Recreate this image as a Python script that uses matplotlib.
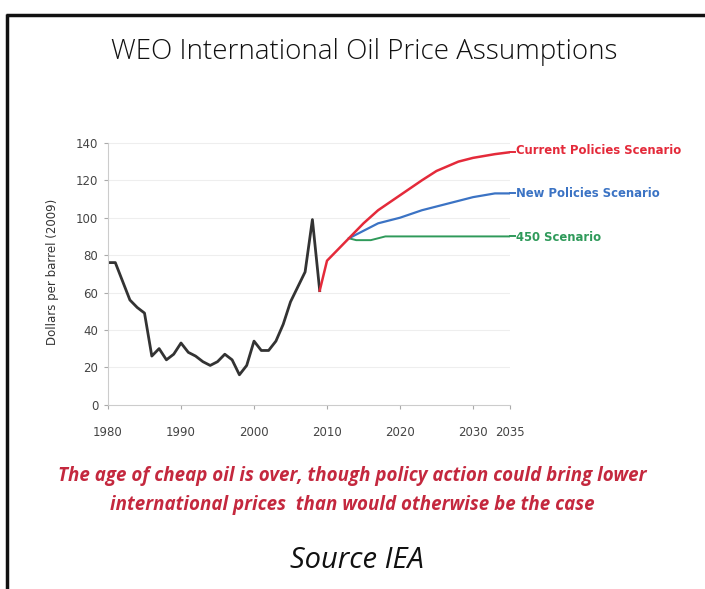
import matplotlib
matplotlib.use("Agg")
import matplotlib.pyplot as plt
from matplotlib.lines import Line2D

# historical import price, 2009 dollars per barrel
hist_years = list(range(1980, 2010))
hist_price = [76, 76, 66, 56, 52, 49, 26, 30, 24, 27,
              33, 28, 26, 23, 21, 23, 27, 24, 16, 21,
              34, 29, 29, 34, 43, 55, 63, 71, 99, 61]

# scenario projections
cps_years = [2009, 2010, 2011, 2012, 2013, 2015, 2017, 2020, 2023, 2025, 2028, 2030, 2033, 2035]
cps_price = [61, 77, 81, 85, 89, 97, 104, 112, 120, 125, 130, 132, 134, 135]
nps_years = [2013, 2015, 2017, 2020, 2023, 2025, 2028, 2030, 2033, 2035]
nps_price = [89, 93, 97, 100, 104, 106, 109, 111, 113, 113]
s450_years = [2013, 2014, 2016, 2017, 2018, 2035]
s450_price = [89, 88, 88, 89, 90, 90]

scen_names = ["Current Policies Scenario", "New Policies Scenario", "450 Scenario"]
scen_colors = ["#e42a3a", "#3b73c4", "#2f9a5a"]

xticks = [1980, 1990, 2000, 2010, 2020, 2030, 2035]
yticks = [0, 20, 40, 60, 80, 100, 120, 140]

fig = plt.figure(figsize=(7.05, 5.89), dpi=100)

# frame lines on top and left
fig.add_artist(Line2D([0.008, 1.0], [0.975, 0.975], color="#111111", lw=2.5,
                      solid_capstyle="butt", transform=fig.transFigure))
fig.add_artist(Line2D([0.0095, 0.0095], [0.0, 0.977], color="#111111", lw=2.5,
                      solid_capstyle="butt", transform=fig.transFigure))

fig.text(0.516, 0.912, "WEO International Oil Price Assumptions", ha="center", va="center",
         fontsize=20, fontweight="light", family="Open Sans", color="#111111")

ax = fig.add_axes([0.1532, 0.3129, 0.5695, 0.4508])
ax.plot(hist_years, hist_price, color="#333333", lw=2.0, solid_joinstyle="round")
ax.plot(s450_years, s450_price, color=scen_colors[2], lw=1.4)
ax.plot(nps_years, nps_price, color=scen_colors[1], lw=1.6)
ax.plot(cps_years, cps_price, color=scen_colors[0], lw=1.8)

ends = [cps_price[-1], nps_price[-1], s450_price[-1]]
nudge = [0.8, 0.0, -0.4]
for name, col, v, dv in zip(scen_names, scen_colors, ends, nudge):
    ax.plot([2035, 2035.7], [v, v], color=col, lw=1.4, clip_on=False)
    ax.text(2035.9, v + dv, name, color=col, fontsize=8.4, fontweight="bold",
            va="center", ha="left", family="DejaVu Sans")

ax.set_xlim(1980, 2035)
ax.set_ylim(0, 142)
ax.set_xticks(xticks)
ax.set_yticks(yticks)
ax.tick_params(axis="both", colors="#aaaaaa", labelcolor="#444444", labelsize=8.5, length=3, width=0.8)
ax.tick_params(axis="y", pad=4)
ax.tick_params(axis="x", pad=12)
for s in ["top", "right"]:
    ax.spines[s].set_visible(False)
for s in ["left", "bottom"]:
    ax.spines[s].set_color("#cccccc")
    ax.spines[s].set_linewidth(0.8)
ax.spines["left"].set_bounds(0, 140)
for y in yticks[1:]:
    ax.axhline(y, color="#eeeeee", lw=0.8, zorder=0)
ax.set_ylabel("Dollars per barrel (2009)", fontsize=8.5, color="#333333", labelpad=12)

note_color = "#c4283e"
fig.text(0.5, 0.192, "The age of cheap oil is over, though policy action could bring lower",
         ha="center", va="center", fontsize=13.5, style="italic", fontweight="bold",
         color=note_color, family="Open Sans")
fig.text(0.5, 0.1426, "international prices  than would otherwise be the case",
         ha="center", va="center", fontsize=13.5, style="italic", fontweight="bold",
         color=note_color, family="Open Sans")
fig.text(0.507, 0.049, "Source IEA", ha="center", va="center", fontsize=21,
         style="italic", color="#111111", family="Open Sans")

fig.savefig("out.png", dpi=100)
